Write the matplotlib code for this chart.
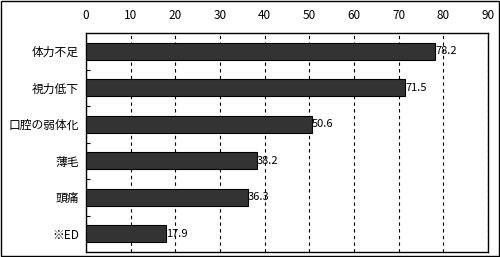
import matplotlib
matplotlib.use("Agg")
import matplotlib.pyplot as plt
from matplotlib.patches import Rectangle

plt.rcParams["font.family"] = ["Noto Sans CJK JP", "DejaVu Sans"]

categories = ["体力不足", "視力低下", "口腔の弱体化", "薄毛", "頭痛", "※ED"]
values = [78.2, 71.5, 50.6, 38.2, 36.3, 17.9]
x_ticks = [0, 10, 20, 30, 40, 50, 60, 70, 80, 90]

fig = plt.figure(figsize=(5.0, 2.57), dpi=100)
ax = fig.add_axes([86 / 500, 5 / 257, 402 / 500, 219 / 257])

pos = list(range(len(categories)))
ax.barh(pos, values, height=0.47, color="#333333", edgecolor="black", linewidth=0.8, zorder=3)
for p, v in zip(pos, values):
    ax.text(v, p, f"{v}", va="center", ha="left", fontsize=8, zorder=4)

ax.set_xlim(0, 90)
ax.set_ylim(len(categories) - 0.5, -0.5)
ax.set_xticks(x_ticks)
ax.xaxis.tick_top()
ax.tick_params(axis="x", length=0, pad=8, labelsize=8.5)
ax.set_yticks(pos)
ax.set_yticklabels(categories, fontsize=8.5)
ax.tick_params(axis="y", which="major", length=0, pad=5)
ax.set_yticks([p + 0.5 for p in pos[:-1]], minor=True)
ax.tick_params(axis="y", which="minor", direction="in", length=3, width=0.8)
ax.grid(axis="x", color="black", linestyle=(0, (3, 3)), linewidth=0.8, zorder=1)
for s in ax.spines.values():
    s.set_linewidth(1)

fig.patches.append(Rectangle((0.001, 0.002), 0.997, 0.994, transform=fig.transFigure,
                             fill=False, edgecolor="black", linewidth=1))

fig.savefig("out.png", dpi=100)
